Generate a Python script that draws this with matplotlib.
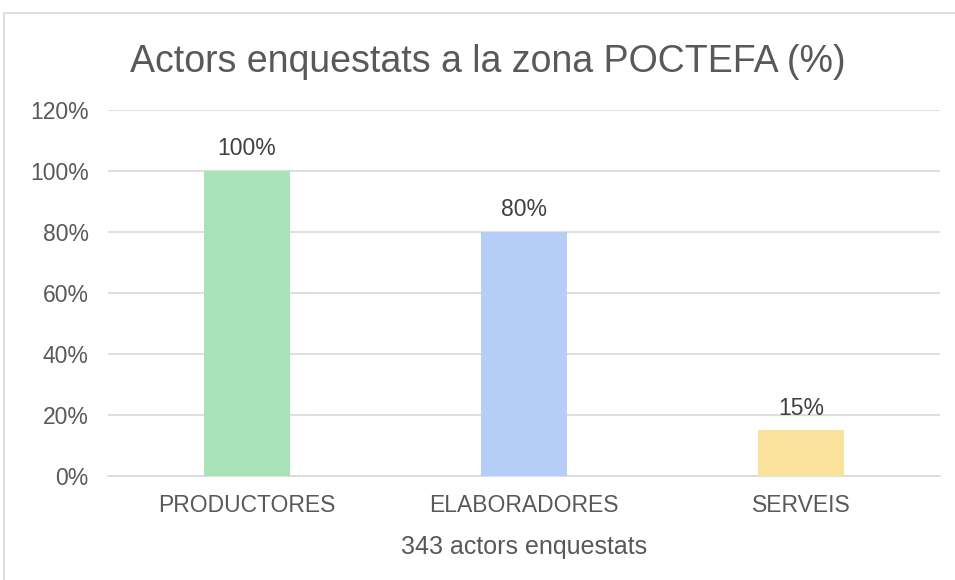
import matplotlib.pyplot as plt
from matplotlib.lines import Line2D

plt.rcParams['font.family'] = ['Liberation Sans', 'DejaVu Sans']

# dades
categories = ["PRODUCTORES", "ELABORADORES", "SERVEIS"]
valors = [100, 80, 15]
colors = ["#A8E3B8", "#B4CEF8", "#FAE29C"]
yticks = [0, 20, 40, 60, 80, 100, 120]

text_color = "#595959"

fig = plt.figure(figsize=(9.55, 5.8), dpi=100)
ax = fig.add_axes([108 / 955, 1 - 476 / 580, 832 / 955, 366 / 580])

x = range(len(categories))
ax.bar(x, valors, width=0.31, color=colors, zorder=3)

for xi, v in zip(x, valors):
    ax.text(xi, v + 3.5, f"{v}%", ha="center", va="bottom", fontsize=16.5, color="#404040")

ax.set_xlim(-0.5, 2.5)
ax.set_ylim(0, 120)
ax.set_yticks(yticks)
ax.set_yticklabels([f"{t}%" for t in yticks], fontsize=16.5, color=text_color)
ax.set_xticks(list(x))
ax.set_xticklabels(categories, fontsize=16.5, color=text_color)
ax.tick_params(length=0, axis="y", pad=14)
ax.tick_params(length=0, axis="x", pad=13)
ax.yaxis.grid(True, color="#D9D9D9", linewidth=1.2, zorder=0)
for s in ax.spines.values():
    s.set_visible(False)
ax.spines["bottom"].set_visible(True)
ax.spines["bottom"].set_color("#D9D9D9")
ax.spines["bottom"].set_linewidth(1.2)

ax.set_xlabel("343 actors enquestats", fontsize=18, color=text_color, labelpad=13)
fig.text(488 / 955, 1 - 62 / 580, "Actors enquestats a la zona POCTEFA (%)",
         ha="center", va="center", fontsize=27, color=text_color)

# marc del gràfic
fig.add_artist(Line2D([4 / 955, 1], [1 - 13 / 580, 1 - 13 / 580], color="#D9D9D9", linewidth=1.2))
fig.add_artist(Line2D([4 / 955, 4 / 955], [0, 1 - 13 / 580], color="#D9D9D9", linewidth=1.2))

fig.savefig("out.png", dpi=100)
